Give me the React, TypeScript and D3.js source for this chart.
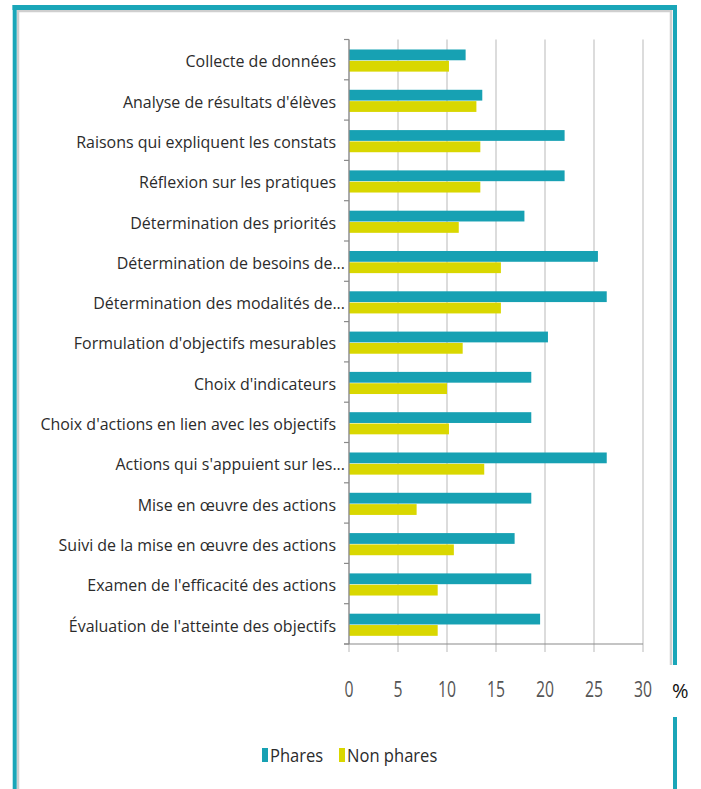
import React from "react";
import * as d3 from "d3";

const categories = [
  "Collecte de données",
  "Analyse de résultats d'élèves",
  "Raisons qui expliquent les constats",
  "Réflexion sur les pratiques",
  "Détermination des priorités",
  "Détermination de besoins de...",
  "Détermination des modalités de...",
  "Formulation d'objectifs mesurables",
  "Choix d'indicateurs",
  "Choix d'actions en lien avec les objectifs",
  "Actions qui s'appuient sur les...",
  "Mise en œuvre des actions",
  "Suivi de la mise en œuvre des actions",
  "Examen de l'efficacité des actions",
  "Évaluation de l'atteinte des objectifs",
];
const phares = [11.9, 13.6, 22.0, 22.0, 17.9, 25.4, 26.3, 20.3, 18.6, 18.6, 26.3, 18.6, 16.9, 18.6, 19.5];
const nonPhares = [10.2, 13.0, 13.4, 13.4, 11.2, 15.5, 15.5, 11.6, 10.0, 10.2, 13.8, 6.9, 10.7, 9.05, 9.05];
const seriesNames = ["Phares", "Non phares"];
const xTicks = [0, 5, 10, 15, 20, 25, 30];
const unitLabel = "%";

const TEAL = "#17a1b3";
const YELLOW = "#d9d700";
const FRAME = "#1aa6b8";
const FONT = "'Open Sans', 'DejaVu Sans', sans-serif";

export default function App() {
  const W = 701, H = 789;
  const x = d3.scaleLinear().domain([0, 30]).range([349, 643]);
  const y = d3.scaleBand<string>().domain(categories).range([39.5, 644]).padding(0);
  const sub = d3
    .scaleBand<string>()
    .domain(seriesNames)
    .range([0, y.step()])
    .paddingInner(0.05)
    .paddingOuter(0.8)
    .align(0.55);
  const colors = [TEAL, YELLOW];
  const data = [phares, nonPhares];
  const y0 = y.range()[0];
  const y1 = y.range()[1];

  const boundaries = categories.map((c) => y(c) as number).concat([y1]);

  return (
    <div style={{ position: "absolute", left: 0, top: 0 }}>
      <svg width={W} height={H} style={{ display: "block", background: "#fff" }}>
        {/* frame */}
        <path d={`M18,${H} L18,11 L671,11 L671,665`} fill="none" stroke="#cfcfcf" strokeWidth={2.5} />
        <line x1={12.5} x2={677} y1={7.5} y2={7.5} stroke={FRAME} strokeWidth={5} />
        <line x1={14.7} x2={14.7} y1={5} y2={H} stroke={FRAME} strokeWidth={4} />
        <line x1={675} x2={675} y1={5} y2={665} stroke={FRAME} strokeWidth={4} />
        <line x1={675} x2={675} y1={717} y2={H} stroke={FRAME} strokeWidth={4} />

        {/* gridlines */}
        {xTicks.map((t) => (
          <line key={"g" + t} x1={x(t)} x2={x(t)} y1={y0} y2={y1 + 8} stroke="#c9c9c9" strokeWidth={1.3} />
        ))}

        {/* bars */}
        {categories.map((c, i) => (
          <g key={c} transform={`translate(0,${y(c)})`}>
            {seriesNames.map((s, j) => (
              <rect
                key={s}
                x={x(0)}
                y={sub(s)}
                width={x(data[j][i]) - x(0)}
                height={sub.bandwidth()}
                fill={colors[j]}
              />
            ))}
          </g>
        ))}

        {/* axes */}
        <line x1={x(0)} x2={x(0)} y1={y0} y2={y1} stroke="#8a8a8a" strokeWidth={1.2} />
        {boundaries.map((b, i) => (
          <line key={"t" + i} x1={x(0) - 5} x2={x(0)} y1={b} y2={b} stroke="#8a8a8a" strokeWidth={1.2} />
        ))}
        <line x1={x(0) - 5} x2={x(30)} y1={y1} y2={y1} stroke="#8a8a8a" strokeWidth={1.2} />

        {/* category labels */}
        {categories.map((c) => (
          <text
            key={"l" + c}
            transform={`translate(${c.endsWith("...") ? 345 : 336},${(y(c) as number) + y.bandwidth() / 2 + 1}) scale(0.94,1)`}
            textAnchor="end"
            dominantBaseline="central"
            fontFamily={FONT}
            fontSize={17}
            fill="#2b2b2b"
          >
            {c}
          </text>
        ))}

        {/* tick labels */}
        {xTicks.map((t) => (
          <text
            key={"x" + t}
            transform={`translate(${x(t)},689) scale(0.75,1)`}
            textAnchor="middle"
            dominantBaseline="central"
            fontFamily={FONT}
            fontSize={21}
            fill="#555"
          >
            {t}
          </text>
        ))}
        <text x={672} y={690} dominantBaseline="central" fontFamily={FONT} fontSize={20} fill="#111">
          {unitLabel}
        </text>

        {/* legend */}
        {seriesNames.map((s, j) => {
          const lx = j === 0 ? 262 : 339;
          return (
            <g key={"lg" + s}>
              <rect x={lx} y={748} width={6} height={14} fill={colors[j]} />
              <text
                transform={`translate(${lx + 8},755) scale(0.92,1)`}
                dominantBaseline="central"
                fontFamily={FONT}
                fontSize={18}
                fill="#2b2b2b"
              >
                {s}
              </text>
            </g>
          );
        })}
      </svg>
    </div>
  );
}
